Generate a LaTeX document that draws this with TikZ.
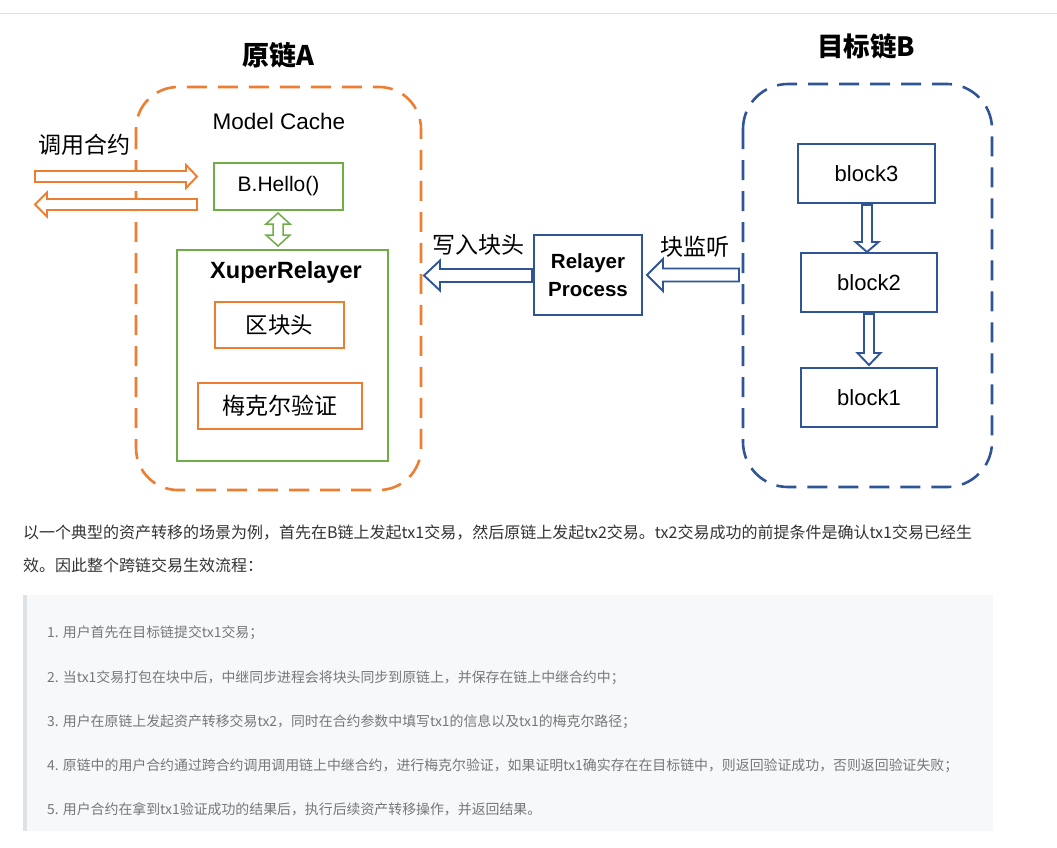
\documentclass[tikz,border=0pt]{standalone}
\usepackage{fontspec}
\setmainfont{Liberation Sans}
\newfontfamily\cjk{Noto Sans CJK SC}
\definecolor{orng}{HTML}{ED7D31}
\definecolor{grn}{HTML}{70AD47}
\definecolor{blu}{HTML}{2F5597}
\definecolor{quotebg}{HTML}{F6F8FA}
\definecolor{quotebar}{HTML}{DFE2E5}
\definecolor{paratext}{HTML}{333333}
\definecolor{listtext}{HTML}{777777}
\newcommand\fs[1]{\fontsize{#1}{#1}\selectfont}
% horizontal block arrow: tail x, tip x, y, shaft half, head half, head length, colour
\newcommand\hblockarrow[7]{%
  \draw[#7, line width=1.9pt, fill=white, line join=miter]
    (#1,#3-#4) -- (#2-#6,#3-#4) -- (#2-#6,#3-#5) -- (#2,#3) -- (#2-#6,#3+#5)
    -- (#2-#6,#3+#4) -- (#1,#3+#4) -- cycle;}
% vertical block arrow: x, tail y, tip y, shaft half, head half, head length, colour
\newcommand\vblockarrow[7]{%
  \draw[#7, line width=1.9pt, fill=white, line join=miter]
    (#1-#4,#2) -- (#1-#4,#3-#6) -- (#1-#5,#3-#6) -- (#1,#3) -- (#1+#5,#3-#6)
    -- (#1+#4,#3-#6) -- (#1+#4,#2) -- cycle;}
\tikzset{
  solidbox/.style={draw, line width=2.8pt, inner sep=0pt, fill=white},
  obox/.style={solidbox, draw=orng},
  gbox/.style={solidbox, draw=grn},
  bbox/.style={solidbox, draw=blu},
  chainbox/.style={line width=2.6pt, dash pattern=on 20pt off 11pt, rounded corners=42pt},
  lbl/.style={inner sep=0pt, text=black},
}
\begin{document}
\begin{tikzpicture}[x=1pt,y=-1pt]
\useasboundingbox (0,0) rectangle (1057,847);
\fill[white] (0,0) rectangle (1057,847);
\draw[black!12, line width=1pt] (0,13) -- (1057,13);

% chain containers
\draw[chainbox, orng] (136,87) rectangle (421,490);
\draw[chainbox, blu, rounded corners=45pt] (743,84) rectangle (992,487);

% titles
\node[lbl] (titleA) at (278,55) {\cjk\bfseries\fs{27}原链A};
\node[lbl] (titleB) at (866,46) {\cjk\bfseries\fs{26.5}目标链B};

% source chain contents
\node[lbl] (mc) at (279,121) {\fs{22.5}Model Cache};
\node[lbl] (call) at (84,145) {\cjk\fs{23}调用合约};
\node[gbox, minimum width=129pt, minimum height=47pt] (hello) at (278.5,186.5) {\fs{21}B.Hello()};
\node[gbox, minimum width=211pt, minimum height=211pt] (xr) at (282.5,355.5) {};
\node[lbl] (xrt) at (286,272) {\bfseries\fs{23.5}XuperRelayer};
\node[obox, minimum width=129pt, minimum height=46pt] (hdr) at (279.5,325) {\cjk\fs{22.5}区块头};
\node[obox, minimum width=164pt, minimum height=46pt] (mk) at (280,406) {\cjk\fs{23}梅克尔验证};

% relayer
\node[bbox, minimum width=108pt, minimum height=80pt, align=center] (rp) at (588,275)
  {\bfseries\fs{20.5}Relayer\\[9pt]\bfseries\fs{20.5}Process};
\node[lbl] (write) at (478,245) {\cjk\fs{23}写入块头};
\node[lbl] (listen) at (695,247) {\cjk\fs{23}块监听};

% target chain blocks
\node[bbox, minimum width=137pt, minimum height=59pt] (b3) at (866.5,173.5) {\fs{22}block3};
\node[bbox, minimum width=136pt, minimum height=59pt] (b2) at (869,282.5) {\fs{22}block2};
\node[bbox, minimum width=136pt, minimum height=59pt] (b1) at (869,397.5) {\fs{22}block1};

% block arrows
\hblockarrow{35}{197}{176.5}{5.5}{11.5}{11}{orng}
\hblockarrow{197}{35}{204.5}{5.5}{12}{-12}{orng}
\hblockarrow{532}{424}{275.5}{6.5}{15}{-16}{blu}
\hblockarrow{739}{647}{275}{6.5}{16}{-16}{blu}
\vblockarrow{867}{205}{252}{5}{11.5}{10}{blu}
\vblockarrow{869}{314}{365}{5}{11.5}{12}{blu}
\draw[grn, line width=1.5pt, fill=white, line join=miter]
  (273,224) -- (273,235) -- (266,235) -- (278,246) -- (290,235) -- (283,235)
  -- (283,224) -- (290,224) -- (278,213) -- (266,224) -- cycle;

% paragraph
\node[anchor=west, inner sep=0pt, text=paratext] (p1) at (23,533)
  {\cjk\fs{16}以一个典型的资产转移的场景为例，首先在B链上发起tx1交易，然后原链上发起tx2交易。tx2交易成功的前提条件是确认tx1交易已经生};
\node[anchor=west, inner sep=0pt, text=paratext] (p2) at (23,565)
  {\cjk\fs{16}效。因此整个跨链交易生效流程：};

% quote block
\fill[quotebg] (23,595) rectangle (993,831);
\fill[quotebar] (23,595) rectangle (27,831);
\tikzset{li/.style={anchor=west, inner sep=0pt, text=listtext}}
\node[li] (l1) at (47,633) {\cjk\fs{13.9}1. 用户首先在目标链提交tx1交易；};
\node[li] (l2) at (47,678) {\cjk\fs{13.9}2. 当tx1交易打包在块中后，中继同步进程会将块头同步到原链上，并保存在链上中继合约中；};
\node[li] (l3) at (47,722) {\cjk\fs{13.9}3. 用户在原链上发起资产转移交易tx2，同时在合约参数中填写tx1的信息以及tx1的梅克尔路径；};
\node[li] (l4) at (47,766) {\cjk\fs{13.9}4. 原链中的用户合约通过跨合约调用调用链上中继合约，进行梅克尔验证，如果证明tx1确实存在在目标链中，则返回验证成功，否则返回验证失败；};
\node[li] (l5) at (47,809) {\cjk\fs{13.9}5. 用户合约在拿到tx1验证成功的结果后，执行后续资产转移操作，并返回结果。};
\end{tikzpicture}
\end{document}
